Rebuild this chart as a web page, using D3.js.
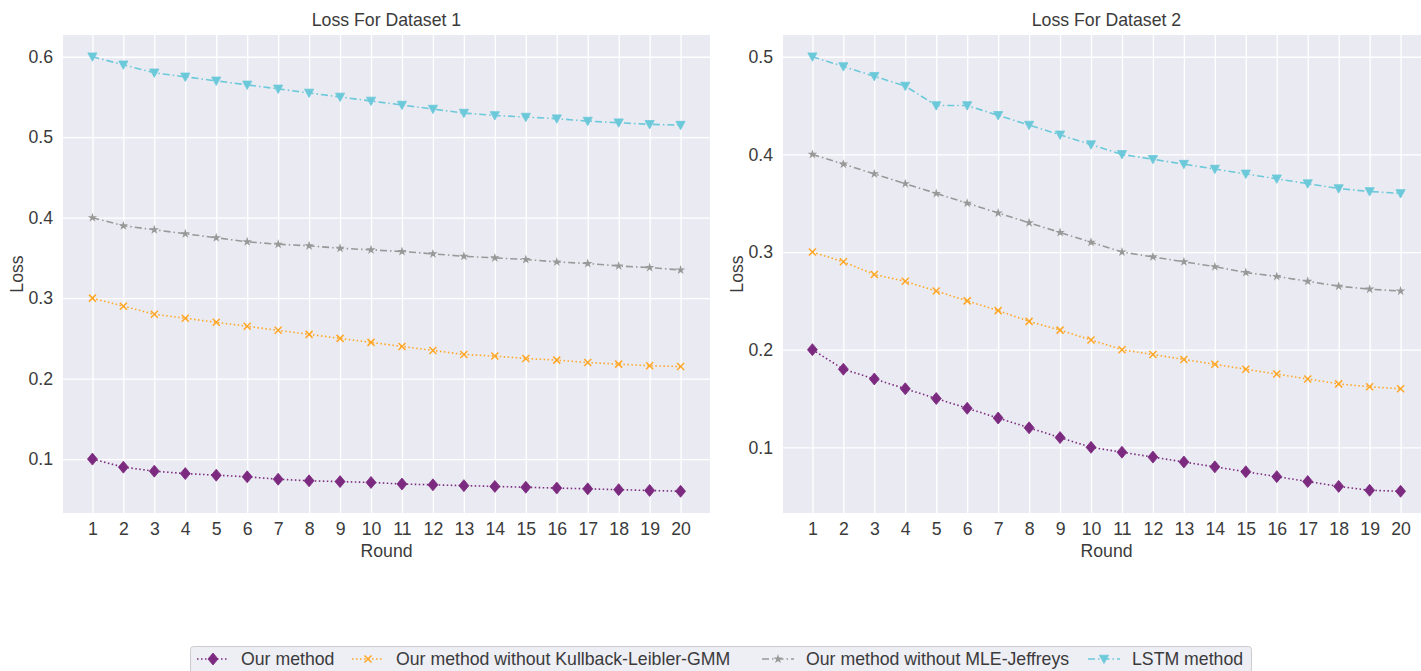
<!DOCTYPE html>
<html>
<head>
<meta charset="utf-8">
<script src="https://cdn.jsdelivr.net/npm/d3@7"></script>
<style>
  body { margin: 0; background: #fff; }
  text { font-family: "Liberation Sans", Arial, sans-serif; fill: #3b3b3b; }
</style>
</head>
<body>
<svg id="chart"></svg>
<script>
var width = 1421;
var height = 671;
var fs = 17.7;

var rounds = d3.range(1, 21);
var seriesNames = ["Our method", "Our method without Kullback-Leibler-GMM", "Our method without MLE-Jeffreys", "LSTM method"];

var ours1 = [0.1, 0.09, 0.085, 0.082, 0.08, 0.078, 0.075, 0.073, 0.072, 0.071, 0.069, 0.068, 0.067, 0.066, 0.065, 0.064, 0.063, 0.062, 0.061, 0.06];
var noKl1 = [0.3, 0.29, 0.28, 0.275, 0.27, 0.265, 0.26, 0.255, 0.25, 0.245, 0.24, 0.235, 0.23, 0.228, 0.225, 0.223, 0.22, 0.218, 0.216, 0.215];
var noMle1 = [0.4, 0.39, 0.385, 0.38, 0.375, 0.37, 0.367, 0.365, 0.362, 0.36, 0.358, 0.355, 0.352, 0.35, 0.348, 0.345, 0.343, 0.34, 0.338, 0.335];
var lstm1 = [0.6, 0.59, 0.58, 0.575, 0.57, 0.565, 0.56, 0.555, 0.55, 0.545, 0.54, 0.535, 0.53, 0.527, 0.525, 0.523, 0.52, 0.518, 0.516, 0.515];

var ours2 = [0.2, 0.18, 0.17, 0.16, 0.15, 0.14, 0.13, 0.12, 0.11, 0.1, 0.095, 0.09, 0.085, 0.08, 0.075, 0.07, 0.065, 0.06, 0.056, 0.055];
var noKl2 = [0.3, 0.29, 0.277, 0.27, 0.26, 0.25, 0.24, 0.229, 0.22, 0.21, 0.2, 0.195, 0.19, 0.185, 0.18, 0.175, 0.17, 0.165, 0.162, 0.16];
var noMle2 = [0.4, 0.39, 0.38, 0.37, 0.36, 0.35, 0.34, 0.33, 0.32, 0.31, 0.3, 0.295, 0.29, 0.285, 0.279, 0.275, 0.27, 0.265, 0.262, 0.26];
var lstm2 = [0.5, 0.49, 0.48, 0.47, 0.45, 0.45, 0.44, 0.43, 0.42, 0.41, 0.4, 0.395, 0.39, 0.385, 0.38, 0.375, 0.37, 0.365, 0.362, 0.36];

var yTicks1 = [0.1, 0.2, 0.3, 0.4, 0.5, 0.6];
var yTicks2 = [0.1, 0.2, 0.3, 0.4, 0.5];

var colors = ["#7b2a7f", "#ffa726", "#999999", "#6cc9d9"];
var dashes = ["1.5,2.5", "1.5,2.5", "7,3,1.5,3", "7,3,1.5,3"];
var symbols = ["diamond", "x", "star", "tri"];

var svg = d3.select("#chart").attr("width", width).attr("height", height);

// draw one marker of the given kind at (x, y)
function marker(g, type, color, x, y) {
  if (type == "diamond") {
    g.append("path").attr("d", "M0,-6L5,0L0,6L-5,0Z")
      .attr("transform", "translate(" + x + "," + y + ")")
      .attr("fill", color).attr("stroke", color).attr("stroke-width", 0.8);
  } else if (type == "x") {
    g.append("path").attr("d", "M-3.5,-3.5L3.5,3.5M-3.5,3.5L3.5,-3.5")
      .attr("transform", "translate(" + x + "," + y + ")")
      .attr("stroke", color).attr("stroke-width", 1.5).attr("fill", "none");
  } else if (type == "star") {
    g.append("path").attr("d", d3.symbol().type(d3.symbolStar).size(28)())
      .attr("transform", "translate(" + x + "," + y + ")")
      .attr("fill", color);
  } else {
    g.append("path").attr("d", "M-4.6,-3.8L4.6,-3.8L0,4.6Z")
      .attr("transform", "translate(" + x + "," + y + ")")
      .attr("fill", color).attr("stroke", color).attr("stroke-width", 0.8);
  }
}

function styleAxis(a) {
  a.select(".domain").remove();
  a.selectAll("line").attr("stroke", "#fff").attr("stroke-width", 1.3);
  a.selectAll("text").attr("font-size", fs).attr("fill", "#3b3b3b")
    .style("font-family", "Liberation Sans, Arial, sans-serif");
}

function drawPanel(left, right, title, series, yMin, yMax, yTicks) {
  var top = 35, bottom = 513;
  var pad = (yMax - yMin) * 0.05;
  var x = d3.scaleLinear().domain([0.05, 20.95]).range([left, right]);
  var y = d3.scaleLinear().domain([yMin - pad, yMax + pad]).range([bottom, top]);
  var g = svg.append("g");

  g.append("rect").attr("x", left).attr("y", top)
    .attr("width", right - left).attr("height", bottom - top)
    .attr("fill", "#eaeaf2");

  g.append("g").attr("transform", "translate(0," + bottom + ")")
    .call(d3.axisBottom(x).tickValues(rounds).tickSize(-(bottom - top)).tickPadding(9).tickFormat(d3.format("d")))
    .call(styleAxis);

  g.append("g").attr("transform", "translate(" + left + ",0)")
    .call(d3.axisLeft(y).tickValues(yTicks).tickSize(-(right - left)).tickPadding(10).tickFormat(d3.format(".1f")))
    .call(styleAxis);

  series.forEach(function(vals, i) {
    var line = d3.line().x(function(d, j) { return x(rounds[j]); }).y(function(d) { return y(d); });
    g.append("path").datum(vals).attr("d", line)
      .attr("fill", "none").attr("stroke", colors[i]).attr("stroke-width", 1.6)
      .attr("stroke-dasharray", dashes[i]);
    vals.forEach(function(v, j) {
      marker(g, symbols[i], colors[i], x(rounds[j]), y(v));
    });
  });

  g.append("text").attr("x", (left + right) / 2).attr("y", 26)
    .attr("text-anchor", "middle").attr("font-size", fs).text(title);
  g.append("text").attr("x", (left + right) / 2).attr("y", 557)
    .attr("text-anchor", "middle").attr("font-size", fs).text("Round");
  g.append("text").attr("transform", "translate(" + (left - 40) + "," + ((top + bottom) / 2) + ") rotate(-90)")
    .attr("text-anchor", "middle").attr("font-size", fs).text("Loss");
}

drawPanel(63, 710, "Loss For Dataset 1", [ours1, noKl1, noMle1, lstm1], 0.06, 0.6, yTicks1);
drawPanel(783, 1430, "Loss For Dataset 2", [ours2, noKl2, noMle2, lstm2], 0.055, 0.5, yTicks2);

// legend
var lg = svg.append("g");
lg.append("rect").attr("x", 190.5).attr("y", 646.5).attr("width", 1061).attr("height", 40)
  .attr("rx", 3).attr("fill", "#eaeaf2").attr("fill-opacity", 0.8).attr("stroke", "#cccccc");
var legendX = [197, 352, 762, 1088];
seriesNames.forEach(function(name, i) {
  var lx = legendX[i], ly = 659;
  lg.append("line").attr("x1", lx).attr("x2", lx + 32).attr("y1", ly).attr("y2", ly)
    .attr("stroke", colors[i]).attr("stroke-width", 1.6).attr("stroke-dasharray", dashes[i]);
  marker(lg, symbols[i], colors[i], lx + 16, ly);
  lg.append("text").attr("x", lx + 44).attr("y", ly + 6).attr("font-size", fs).text(name);
});
</script>
</body>
</html>
